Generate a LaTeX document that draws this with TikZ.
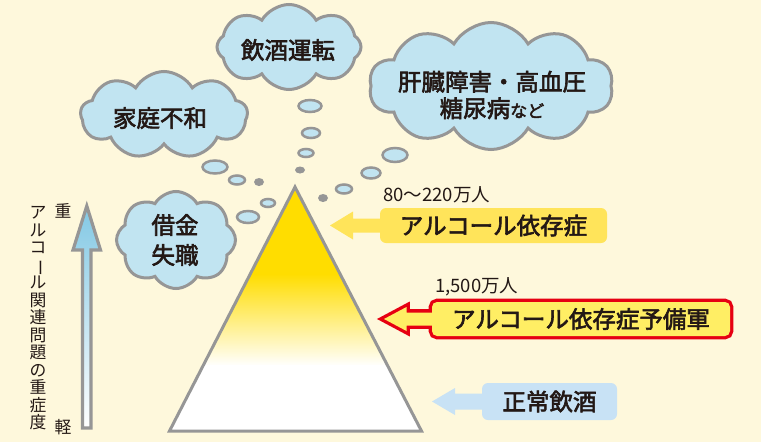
\documentclass[tikz,border=0pt]{standalone}
\usepackage{fontspec}
\setmainfont{Noto Sans CJK JP}
\newfontfamily\medfont{Noto Sans CJK JP}[FakeBold=2.6]
\usepackage{graphicx}
\usetikzlibrary{shapes.symbols,shapes.geometric,calc}
\definecolor{bgcream}{RGB}{254,248,220}
\definecolor{cloudblue}{RGB}{193,228,241}
\definecolor{graystroke}{RGB}{150,150,150}
\definecolor{boxyellow}{RGB}{255,228,90}
\definecolor{triyellow}{RGB}{255,221,0}
\definecolor{redfill}{RGB}{255,238,100}
\definecolor{redline}{RGB}{230,0,18}
\definecolor{bluebox}{RGB}{200,226,245}
\definecolor{arrowblue}{RGB}{130,200,228}
\definecolor{textcol}{RGB}{35,24,21}
\pgfdeclarelayer{bg}
\pgfdeclarelayer{back}
\pgfsetlayers{bg,back,main}
\tikzset{
  cloudbox/.style={cloud, cloud puffs=#1, cloud puff arc=120, cloud ignores aspect,
    draw=graystroke, line width=3pt, fill=cloudblue, inner sep=0pt, outer sep=0pt},
  bubble/.style={ellipse, draw=graystroke, line width=2.5pt, fill=cloudblue, inner sep=0pt, outer sep=0pt},
  graydot/.style={ellipse, fill=graystroke, inner sep=0pt, outer sep=0pt},
  bigtext/.style={font=\medfont\fontsize{23.5}{26.6}\selectfont, align=center, inner sep=0pt, text=textcol},
  smalltext/.style={font=\fontsize{18.5}{18.5}\selectfont, inner sep=0pt, text=textcol},
  sidetext/.style={font=\fontsize{16.8}{17.5}\selectfont, align=center, inner sep=0pt, text=textcol},
  ybox/.style={fill=boxyellow, rounded corners=6pt, inner sep=0pt, outer sep=0pt,
    font=\medfont\fontsize{23.5}{26.6}\selectfont, text=textcol},
  rbox/.style={fill=redfill, rounded corners=5pt, inner sep=0pt, outer sep=0pt,
    font=\medfont\fontsize{23.5}{26.6}\selectfont, text=textcol},
  bbox/.style={fill=bluebox, rounded corners=6pt, inner sep=0pt, outer sep=0pt,
    font=\medfont\fontsize{23.5}{26.6}\selectfont, text=textcol},
}
\begin{document}
\begin{tikzpicture}[x=1pt,y=-1pt]
\begin{pgfonlayer}{bg}
\fill[bgcream] (0,0) rectangle (761,442);
\end{pgfonlayer}
\useasboundingbox (0,0) rectangle (761,442);

% severity arrow
\coordinate (sevtop) at (86.8,206);
\path[top color=arrowblue, middle color=arrowblue!80, bottom color=white, draw=graystroke, line width=3.2pt, line join=miter]
  (82.5,428) -- (82.5,250) -- (73,250) -- (sevtop) -- (100.5,250) -- (91,250) -- (91,428) -- cycle;
\node[sidetext] (heavy) at (63,211) {重};
\node[sidetext] (light) at (63,427) {軽};
\node[sidetext] (vlabel) at (38,318.5) {ア\\ル\\コ\\\rotatebox[origin=c]{-90}{ー}\\ル\\関\\連\\問\\題\\の\\重\\症\\度};

% triangle
\coordinate (apex) at (295,187);
\coordinate (bl) at (169.5,431);
\coordinate (br) at (421.5,431);
\begin{scope}
\clip (apex) -- (bl) -- (br) -- cycle;
\fill[triyellow] (160,180) rectangle (430,275);
\path[top color=triyellow, middle color=triyellow!55, bottom color=white] (160,274) rectangle (430,366);
\fill[white] (160,365) rectangle (430,440);
\end{scope}
\draw[graystroke, line width=3pt, line join=miter] (apex) -- (bl) -- (br) -- cycle;

% clouds
\node[cloudbox=8, minimum width=144, minimum height=85] (cdrink) at (289,47) {};
\node[cloudbox=9, minimum width=167, minimum height=87] (cfamily) at (164,115) {};
\node[cloudbox=10, minimum width=244, minimum height=127] (cliver) at (491,86) {};
\node[cloudbox=8, minimum width=119, minimum height=97] (cdebt) at (176,240) {};
\node[bigtext] (tdrink) at (288,50) {飲酒運転};
\node[bigtext] (tfamily) at (160,118) {家庭不和};
\node[bigtext] (tliver) at (492,95) {肝臓障害・高血圧\\糖尿病{\fontsize{17}{17}\selectfont など}};
\node[bigtext, font=\medfont\fontsize{23.5}{30}\selectfont] (tdebt) at (175,240) {借金\\失職};

% bubbles
\node[bubble, minimum width=23, minimum height=12] (c1) at (310,106) {};
\node[bubble, minimum width=18, minimum height=10] (c2) at (311,133) {};
\node[bubble, minimum width=15, minimum height=8] (c3) at (306,153) {};
\node[graydot, minimum width=10, minimum height=7] (c4) at (300,170) {};
\node[bubble, minimum width=25, minimum height=13] (l1) at (215,167) {};
\node[bubble, minimum width=16, minimum height=9] (l2) at (237,180) {};
\node[graydot, minimum width=10, minimum height=8] (l3) at (259,182) {};
\node[bubble, minimum width=14, minimum height=8] (m1) at (268,203) {};
\node[bubble, minimum width=22, minimum height=12] (m2) at (248,217) {};
\node[bubble, minimum width=25, minimum height=14] (r1) at (395,155) {};
\node[bubble, minimum width=19, minimum height=11] (r2) at (371,173) {};
\node[bubble, minimum width=16, minimum height=9] (r3) at (344,189) {};
\node[graydot, minimum width=10, minimum height=8] (r4) at (323,198) {};

% labels
\node[smalltext, anchor=west] (n1) at (383,195) {80〜220万人};
\node[smalltext, anchor=west] (n2) at (435,287) {1,500万人};

% yellow box + arrow
\node[ybox, minimum width=227, minimum height=35] (yb) at (493.5,225.5) {アルコール依存症};
\fill[boxyellow] ([xshift=4pt]yb.west) -- ++(0,-7) -- ++(-31,0) -- ++(0,-7) -- ++(-23,14) -- ++(23,14) -- ++(0,-7) -- ++(31,0) -- cycle;

% red box + arrow
\node[rbox, minimum width=298, minimum height=34] (rb) at (581,319) {アルコール依存症予備軍};
\begin{pgfonlayer}{back}
\draw[redline, line width=6.6pt, rounded corners=5pt] (rb.south west) rectangle (rb.north east);
\draw[redline, line width=6.6pt, line join=miter] ([xshift=8pt]rb.west) -- ++(0,-6.5) -- ++(-33.5,0) -- ++(0,-5.5) -- ++(-22.5,12) -- ++(22.5,12) -- ++(0,-5.5) -- ++(33.5,0) -- cycle;
\end{pgfonlayer}
\fill[redfill] ([xshift=8pt]rb.west) -- ++(0,-6.5) -- ++(-33.5,0) -- ++(0,-5.5) -- ++(-22.5,12) -- ++(22.5,12) -- ++(0,-5.5) -- ++(33.5,0) -- cycle;

% blue box + arrow
\node[bbox, minimum width=135, minimum height=37] (bb) at (549.5,401.5) {正常飲酒};
\fill[bluebox] ([xshift=4pt]bb.west) -- ++(0,-8) -- ++(-31,0) -- ++(0,-5.5) -- ++(-23,13.5) -- ++(23,13.5) -- ++(0,-5.5) -- ++(31,0) -- cycle;
\end{tikzpicture}
\end{document}
